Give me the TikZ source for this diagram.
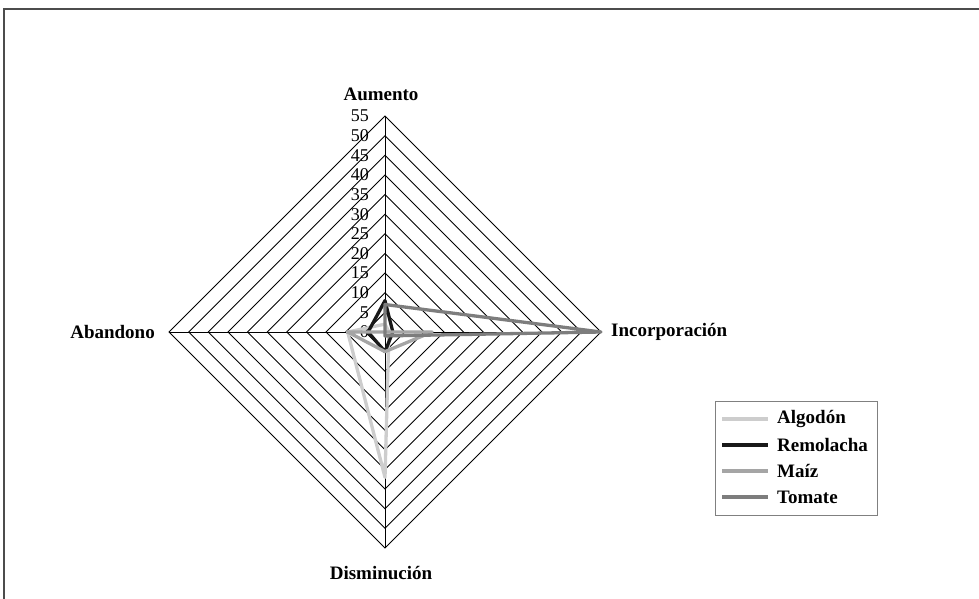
\documentclass[tikz,border=0pt]{standalone}
\usepackage{fontspec}
\setmainfont{Liberation Serif}
\begin{document}
\begin{tikzpicture}[x=1pt,y=-1pt,
    grid/.style={line width=0.9pt,black},
    axislabel/.style={font=\fontsize{19}{19}\selectfont\bfseries,inner sep=0pt},
    ticklabel/.style={font=\fontsize{18}{18}\selectfont,anchor=east,inner sep=0pt},
    serie/.style={line width=3.3pt,line join=round},
    algodon/.style={serie,color={rgb,255:red,205;green,205;blue,205}},
    remolacha/.style={serie,color={rgb,255:red,25;green,25;blue,25}},
    maiz/.style={serie,color={rgb,255:red,165;green,165;blue,165}},
    tomate/.style={serie,color={rgb,255:red,125;green,125;blue,125}}]
      \useasboundingbox (0,0) rectangle (979,599);
      \def\u{3.927}
      % frame
      \draw [line width=2pt,gray!60!black] (4,599) -- (4,9) -- (979,9);
      \begin{scope}[shift={(385,332)}]
        % rings and axes
        \foreach \v in {5,10,...,55}
          \draw [grid] (0,{-\v*\u}) -- ({\v*\u},0) -- (0,{\v*\u}) -- ({-\v*\u},0) -- cycle;
        \draw [grid] (0,{-55*\u}) -- (0,{55*\u});
        \draw [grid] ({-55*\u},0) -- ({55*\u},0);
        \foreach \v in {0,5,...,55}
          \node [ticklabel] at (-16,{-\v*\u}) {\v};
        % series
        \draw [algodon] (0,{-2*\u}) -- ({1*\u},0) -- (0,{37*\u}) -- ({-9.5*\u},0) -- cycle;
        \draw [remolacha] (0,{-8*\u}) -- ({2*\u},0) -- (0,{5*\u}) -- ({-4.3*\u},0) -- cycle;
        \draw [maiz] (0,0) -- ({12*\u},0) -- (0,{5*\u}) -- ({-9.5*\u},0) -- cycle;
        \draw [tomate] (0,{-7*\u}) -- ({55*\u},0) -- (0,{1*\u}) -- (0,0) -- cycle;
        % axis names
        \node [axislabel] (aumento) at (-4,{-55*\u-22}) {Aumento};
        \node [axislabel,anchor=west] (incorporacion) at ({55*\u+10},0) {Incorporación};
        \node [axislabel] (disminucion) at (-4,{55*\u+25}) {Disminución};
        \node [axislabel,anchor=east] (abandono) at ({-55*\u-14},0) {Abandono};
      \end{scope}
      % legend
      \draw [line width=0.8pt,gray] (715,401) rectangle (877,515);
      \foreach \s/\t/\y in {algodon/Algodón/419,remolacha/Remolacha/445,
                            maiz/Maíz/471,tomate/Tomate/497} {
        \draw [\s,line cap=butt] (722,\y) -- (768,\y);
        \node [axislabel,anchor=west] (ley-\s) at (777,\y) {\t};
      }
\end{tikzpicture}
\end{document}
